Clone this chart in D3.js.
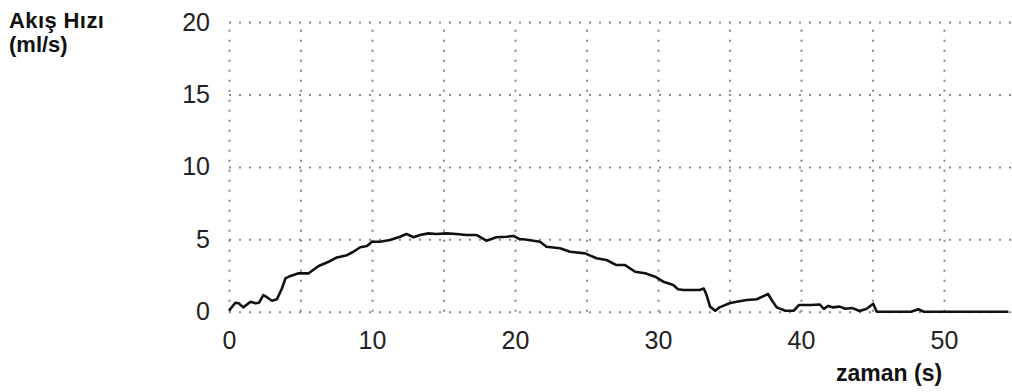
<!DOCTYPE html>
<html>
<head>
<meta charset="utf-8">
<script src="https://cdn.jsdelivr.net/npm/d3@7"></script>
<style>
  html, body { margin: 0; padding: 0; background: #fff; }
  svg { display: block; font-family: "Liberation Sans", Arial, sans-serif; }
  .grid line { stroke: #8a8a8a; stroke-width: 2; stroke-dasharray: 2,8; }
  .grid .domain { display: none; }
  .grid text { fill: #222; font-size: 25px; }
  .title { font-weight: bold; font-size: 22px; fill: #111; }
</style>
</head>
<body>
<div id="chart"></div>
<script>
// Flow-rate curve (time in s, flow in ml/s)
const time = [0, 0.45, 0.68, 1.0, 1.5, 1.85, 2.1, 2.4, 2.65, 3.0, 3.35, 3.7, 3.95, 4.3, 4.87,
  5.57, 6.27, 6.97, 7.55, 8.25, 8.7, 9.18, 9.65, 10.0, 10.56, 11.26, 11.96, 12.4, 12.9, 13.36,
  13.94, 14.5, 15.2, 15.9, 16.6, 17.3, 18.0, 18.7, 19.4, 19.9, 20.35, 20.6, 21.75, 22.2, 23.15,
  23.85, 24.9, 25.7, 26.4, 27.1, 27.7, 28.4, 29.1, 29.8, 30.37, 31.07, 31.4, 31.77, 32.9, 33.2,
  33.4, 33.64, 34.0, 34.3, 35.0, 35.5, 36.2, 36.9, 37.7, 37.95, 38.3, 38.9, 39.5, 39.85, 40.7,
  41.3, 41.6, 41.9, 42.2, 42.7, 43.1, 43.6, 44.1, 44.6, 45.05, 45.3, 47.7, 48.2, 48.6, 54.5];
const flow = [0.07, 0.62, 0.58, 0.3, 0.69, 0.58, 0.62, 1.15, 1.0, 0.76, 0.86, 1.6, 2.3, 2.47, 2.65,
  2.65, 3.16, 3.45, 3.75, 3.9, 4.14, 4.45, 4.54, 4.83, 4.83, 4.95, 5.18, 5.37, 5.14, 5.3,
  5.41, 5.37, 5.41, 5.37, 5.3, 5.3, 4.9, 5.14, 5.18, 5.23, 5.0, 5.0, 4.83, 4.49, 4.38,
  4.14, 4.03, 3.69, 3.57, 3.22, 3.22, 2.76, 2.65, 2.42, 2.07, 1.84, 1.55, 1.5, 1.5, 1.6,
  1.15, 0.35, 0.07, 0.3, 0.58, 0.69, 0.81, 0.86, 1.22, 0.81, 0.3, 0.07, 0.07, 0.46, 0.46,
  0.5, 0.2, 0.4, 0.3, 0.35, 0.2, 0.25, 0.05, 0.2, 0.55, 0, 0, 0.17, 0, 0];

const xGridTicks = [0, 5, 10, 15, 20, 25, 30, 35, 40, 45, 50, 55];
const xLabelTicks = [0, 10, 20, 30, 40, 50];
const yTicks = [0, 5, 10, 15, 20];

const yLabel = ["Akış Hızı", "(ml/s)"];
const xLabel = "zaman (s)";

const width = 1012, height = 392;

const x = d3.scaleLinear().domain([0, 55]).range([229, 1015.5]);
const y = d3.scaleLinear().domain([0, 20]).range([311.7, 22.1]);

const svg = d3.select("#chart").append("svg")
  .attr("width", width)
  .attr("height", height);

// horizontal dotted grid + y labels
svg.append("g")
  .attr("class", "grid")
  .attr("transform", `translate(${x(0)},0)`)
  .call(d3.axisLeft(y).tickValues(yTicks).tickSize(-(x(55) - x(0))).tickPadding(19));

// vertical dotted grid + x labels
svg.append("g")
  .attr("class", "grid")
  .attr("transform", `translate(0,${y(0)})`)
  .call(d3.axisBottom(x).tickValues(xGridTicks).tickSize(-(y(0) - y(20))).tickPadding(20)
    .tickFormat(d => xLabelTicks.includes(d) ? d : ""));

const line = d3.line()
  .x((d, i) => x(time[i]))
  .y(d => y(d));

svg.append("path")
  .datum(flow)
  .attr("fill", "none")
  .attr("stroke", "#111")
  .attr("stroke-width", 2.6)
  .attr("stroke-linejoin", "round")
  .attr("d", line);

svg.append("text").attr("class", "title").attr("x", 9).attr("y", 27.5)
  .style("letter-spacing", "0.4px").text(yLabel[0]);
svg.append("text").attr("class", "title").attr("x", 9).attr("y", 52).text(yLabel[1]);
svg.append("text").attr("class", "title").attr("x", 836).attr("y", 381)
  .style("font-size", "23px").text(xLabel);
</script>
</body>
</html>
